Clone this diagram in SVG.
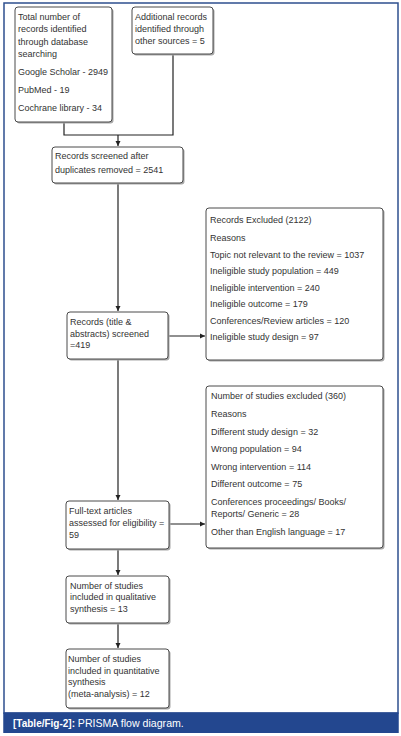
<svg xmlns="http://www.w3.org/2000/svg" width="401" height="736" viewBox="0 0 401 736">
<style>
.box{fill:#fff;stroke:#4a4a4a;stroke-width:1}
.sh{fill:#a8a8a8;stroke:none}
.t{font-family:"Liberation Sans",Arial,sans-serif;font-size:9px;fill:#333}
.c{fill:none;stroke:#222;stroke-width:1.2}
.cap{font-family:"Liberation Sans",Arial,sans-serif;font-size:10px;fill:#fff}
</style>
<defs>
<marker id="ah" markerWidth="6" markerHeight="6" refX="5" refY="3" orient="auto" markerUnits="userSpaceOnUse">
<path d="M0,0.5 L5,3 L0,5.5 Z" fill="#222"/>
</marker>
</defs>
<rect x="0" y="0" width="401" height="736" fill="#fff"/>
<rect x="4" y="3" width="394" height="710" fill="#fff" stroke="#2e4f8e" stroke-width="1.5"/>
<rect x="3.25" y="712.5" width="395.5" height="20.5" fill="#23478f"/>
<text x="13" y="727" class="cap"><tspan font-weight="bold">[Table/Fig-2]:</tspan> <tspan font-size="10.6">PRISMA flow diagram.</tspan></text>

<g id="connectors">
<path class="c" d="M64,122 V135 H173 V54"/>
<path class="c" d="M118,135 V146" marker-end="url(#ah)"/>
<path class="c" d="M118,183 V311" marker-end="url(#ah)"/>
<path class="c" d="M168,336 H205" marker-end="url(#ah)"/>
<path class="c" d="M118,359 V500" marker-end="url(#ah)"/>
<path class="c" d="M169,524 H205" marker-end="url(#ah)"/>
<path class="c" d="M118,549 V575" marker-end="url(#ah)"/>
<path class="c" d="M118,623 V648" marker-end="url(#ah)"/>
</g>

<g id="n1">
<rect class="sh" x="16.5" y="8.5" width="97" height="115" rx="3"/>
<rect class="box" x="15" y="7" width="97" height="115" rx="3"/>
<text class="t" x="18" y="19.5">Total number of</text>
<text class="t" x="18" y="32">records identified</text>
<text class="t" x="18" y="44.5">through database</text>
<text class="t" x="18" y="56.5">searching</text>
<text class="t" x="18" y="74.5">Google Scholar - 2949</text>
<text class="t" x="18" y="92.5">PubMed - 19</text>
<text class="t" x="18" y="110.5">Cochrane library - 34</text>
</g>

<g id="n2">
<rect class="sh" x="133.5" y="8.5" width="81" height="47" rx="3"/>
<rect class="box" x="132" y="7" width="81" height="47" rx="3"/>
<text class="t" x="135" y="19.5">Additional records</text>
<text class="t" x="135" y="32">identified through</text>
<text class="t" x="135" y="44">other sources = 5</text>
</g>

<g id="n3">
<rect class="sh" x="53.5" y="148.5" width="131" height="36" rx="3"/>
<rect class="box" x="52" y="147" width="131" height="36" rx="3"/>
<text class="t" x="55" y="159">Records screened after</text>
<text class="t" x="55" y="172.5">duplicates removed = 2541</text>
</g>

<g id="n4">
<rect class="sh" x="68.5" y="313.5" width="101" height="47" rx="3"/>
<rect class="box" x="67" y="312" width="101" height="47" rx="3"/>
<text class="t" x="70" y="325">Records (title &amp;</text>
<text class="t" x="70" y="336.5">abstracts) screened</text>
<text class="t" x="70" y="348">=419</text>
</g>

<g id="n5">
<rect class="sh" x="207.5" y="209.5" width="177" height="152" rx="3"/>
<rect class="box" x="206" y="208" width="177" height="152" rx="3"/>
<text class="t" x="210" y="222.5">Records Excluded (2122)</text>
<text class="t" x="210" y="240.5">Reasons</text>
<text class="t" x="210" y="257.5">Topic not relevant to the review = 1037</text>
<text class="t" x="210" y="274">Ineligible study population = 449</text>
<text class="t" x="210" y="290.5">Ineligible intervention = 240</text>
<text class="t" x="210" y="307">Ineligible outcome = 179</text>
<text class="t" x="210" y="323.5">Conferences/Review articles = 120</text>
<text class="t" x="210" y="340">Ineligible study design = 97</text>
</g>

<g id="n6">
<rect class="sh" x="207.5" y="387.5" width="177" height="162" rx="3"/>
<rect class="box" x="206" y="386" width="177" height="162" rx="3"/>
<text class="t" x="211" y="398.5">Number of studies excluded (360)</text>
<text class="t" x="211" y="416.5">Reasons</text>
<text class="t" x="211" y="434.5">Different study design = 32</text>
<text class="t" x="211" y="452">Wrong population = 94</text>
<text class="t" x="211" y="469.5">Wrong intervention = 114</text>
<text class="t" x="211" y="487">Different outcome = 75</text>
<text class="t" x="211" y="505">Conferences proceedings/ Books/</text>
<text class="t" x="211" y="517">Reports/ Generic = 28</text>
<text class="t" x="211" y="534.5">Other than English language = 17</text>
</g>

<g id="n7">
<rect class="sh" x="67.5" y="502.5" width="103" height="48" rx="3"/>
<rect class="box" x="66" y="501" width="103" height="48" rx="3"/>
<text class="t" x="69" y="513.5">Full-text articles</text>
<text class="t" x="69" y="525.5">assessed for eligibility =</text>
<text class="t" x="69" y="537.5">59</text>
</g>

<g id="n8">
<rect class="sh" x="67.5" y="577.5" width="103" height="47" rx="3"/>
<rect class="box" x="66" y="576" width="103" height="47" rx="3"/>
<text class="t" x="70" y="588.5">Number of studies</text>
<text class="t" x="70" y="600">included in qualitative</text>
<text class="t" x="70" y="611.5">synthesis = 13</text>
</g>

<g id="n9">
<rect class="sh" x="67.5" y="650.5" width="103" height="59" rx="3"/>
<rect class="box" x="66" y="649" width="103" height="59" rx="3"/>
<text class="t" x="68" y="661.5">Number of studies</text>
<text class="t" x="68" y="673.5">included in quantitative</text>
<text class="t" x="68" y="685">synthesis</text>
<text class="t" x="68" y="697">(meta-analysis) = 12</text>
</g>
</svg>
